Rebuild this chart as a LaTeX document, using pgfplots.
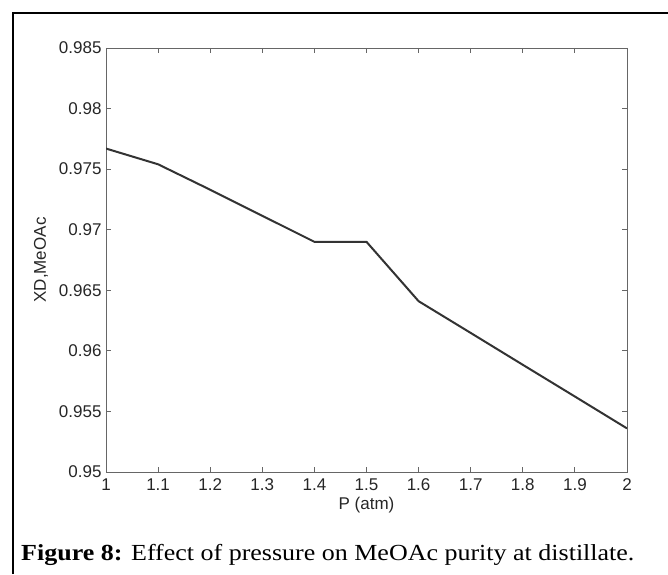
\documentclass[border=0pt]{standalone}
\usepackage{pgfplots}
\pgfplotsset{compat=1.18}
\usepackage{fontspec}
\setmainfont{Liberation Serif}
\newfontfamily\arial{Liberation Sans}
\begin{document}
\begin{tikzpicture}[x=1pt,y=1pt]
\useasboundingbox (0,0) rectangle (668,574);
\draw[black, line width=1.6pt] (13,0) -- (13,561) -- (668,561);
\begin{axis}[
  at={(106pt,102pt)}, anchor=south west,
  scale only axis, width=521pt, height=424pt,
  xmin=1, xmax=2, ymin=0.95, ymax=0.985,
  /pgf/number format/assume math mode=true,
  xtick={1,1.1,1.2,1.3,1.4,1.5,1.6,1.7,1.8,1.9,2},
  xticklabels={1,1.1,1.2,1.3,1.4,1.5,1.6,1.7,1.8,1.9,2},
  ytick={0.95,0.955,0.96,0.965,0.97,0.975,0.98,0.985},
  yticklabels={0.95,0.955,0.96,0.965,0.97,0.975,0.98,0.985},
  tick align=inside, major tick length=5pt,
  xtick pos=both, ytick pos=both,
  axis line style={black!60, line width=0.9pt},
  every tick/.style={black!60, line width=0.9pt},
  tick label style={font=\arial\fontsize{17}{19}\selectfont, text=black!85},
  xticklabel style={yshift=-3pt},
  yticklabel style={xshift=-1pt},
  xlabel={P (atm)}, ylabel={XD,MeOAc},
  label style={font=\arial\fontsize{17}{19}\selectfont, text=black!85},
  xlabel style={yshift=0pt},
  ylabel style={yshift=4pt},
]
\addplot[color=black!80, line width=2pt, line join=round] coordinates {
(1.0,0.9767) (1.1,0.9754) (1.2,0.97330) (1.3,0.97115) (1.4,0.9690) (1.5,0.9690)
(1.6,0.9641) (1.7,0.96148) (1.8,0.95885) (1.9,0.95623) (2.0,0.9536)
};
\end{axis}
\node[anchor=base west, inner sep=0pt] at (21,14) {\scalebox{1.13}[1]{\fontsize{23}{26}\selectfont\textbf{Figure 8:} Effect of pressure on MeOAc purity at distillate.}};
\end{tikzpicture}
\end{document}
